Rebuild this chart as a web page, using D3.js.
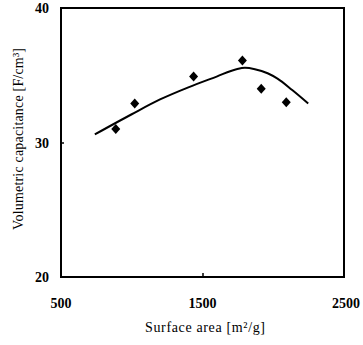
<!DOCTYPE html>
<html>
<head>
<meta charset="utf-8">
<script src="https://cdn.jsdelivr.net/npm/d3@7"></script>
<style>
  body { margin: 0; background: #fff; }
  text { font-family: "Liberation Serif", "Times New Roman", serif; fill: #000; }
</style>
</head>
<body>
<script>
// measured points
var surfaceArea = [887, 1021, 1437, 1782, 1915, 2092];
var capacitance = [31.0, 32.9, 34.9, 36.1, 34.0, 33.0];

// fitted trend line
var fitX = [739, 1000, 1200, 1400, 1600, 1740, 1800, 1870, 1960, 2030, 2134, 2247];
var fitY = [30.6, 32.1, 33.2, 34.1, 34.9, 35.45, 35.55, 35.45, 35.15, 34.75, 33.9, 32.9];

var xTicks = [500, 1500, 2500];
var yTicks = [20, 30, 40];

var w = 363, h = 345;
// plot frame edges (don't use "top", it's window.top)
var pLeft = 61, pRight = 344, pTop = 8, pBottom = 277;

var svg = d3.select("body").append("svg").attr("width", w).attr("height", h);

var x = d3.scaleLinear().domain([500, 2500]).range([pLeft, pRight]);
var y = d3.scaleLinear().domain([20, 40]).range([pBottom, pTop]);

// frame
svg.append("rect").attr("x", pLeft).attr("y", pTop)
  .attr("width", pRight - pLeft).attr("height", pBottom - pTop)
  .attr("fill", "none").attr("stroke", "#000").attr("stroke-width", 2);

// inward ticks
svg.append("g").attr("transform", "translate(0," + pBottom + ")")
  .call(d3.axisBottom(x).tickValues([1500]).tickSize(-4).tickFormat(""))
  .call(function(g) { g.select(".domain").remove(); })
  .selectAll("line").attr("stroke-width", 1.5);
svg.append("g").attr("transform", "translate(" + pLeft + ",0)")
  .call(d3.axisLeft(y).tickValues([30]).tickSize(-3).tickFormat(""))
  .call(function(g) { g.select(".domain").remove(); })
  .selectAll("line").attr("stroke-width", 1.5);

// tick labels
svg.selectAll("text.xt").data(xTicks).enter().append("text")
  .attr("class", "xt")
  .attr("x", function(d) { return x(d) + (d === 2500 ? 2 : 0); })
  .attr("y", 308)
  .attr("text-anchor", "middle")
  .attr("font-size", 14).attr("font-weight", "bold")
  .text(function(d) { return d; });

svg.selectAll("text.yt").data(yTicks).enter().append("text")
  .attr("class", "yt")
  .attr("x", 49)
  .attr("y", function(d) { return y(d) + 5; })
  .attr("text-anchor", "end")
  .attr("font-size", 14).attr("font-weight", "bold")
  .text(function(d) { return d; });

// axis titles
svg.append("text")
  .attr("x", 205).attr("y", 332)
  .attr("text-anchor", "middle").attr("font-size", 14)
  .attr("textLength", 120).attr("lengthAdjust", "spacing")
  .text("Surface area [m\u00b2/g]");

svg.append("text")
  .attr("transform", "translate(23,139) rotate(-90)")
  .attr("text-anchor", "middle").attr("font-size", 14)
  .attr("textLength", 182).attr("lengthAdjust", "spacing")
  .text("Volumetric capacitance [F/cm\u00b3]");

// trend line
var line = d3.line()
  .x(function(d) { return x(d[0]); })
  .y(function(d) { return y(d[1]); })
  .curve(d3.curveMonotoneX);
svg.append("path")
  .datum(d3.zip(fitX, fitY))
  .attr("d", line)
  .attr("fill", "none").attr("stroke", "#000").attr("stroke-width", 2);

// diamonds
svg.selectAll("path.pt").data(d3.zip(surfaceArea, capacitance)).enter()
  .append("path")
  .attr("class", "pt")
  .attr("d", "M0,-5L4.5,0L0,5L-4.5,0Z")
  .attr("transform", function(d) { return "translate(" + x(d[0]) + "," + y(d[1]) + ")"; })
  .attr("fill", "#000");
</script>
</body>
</html>
